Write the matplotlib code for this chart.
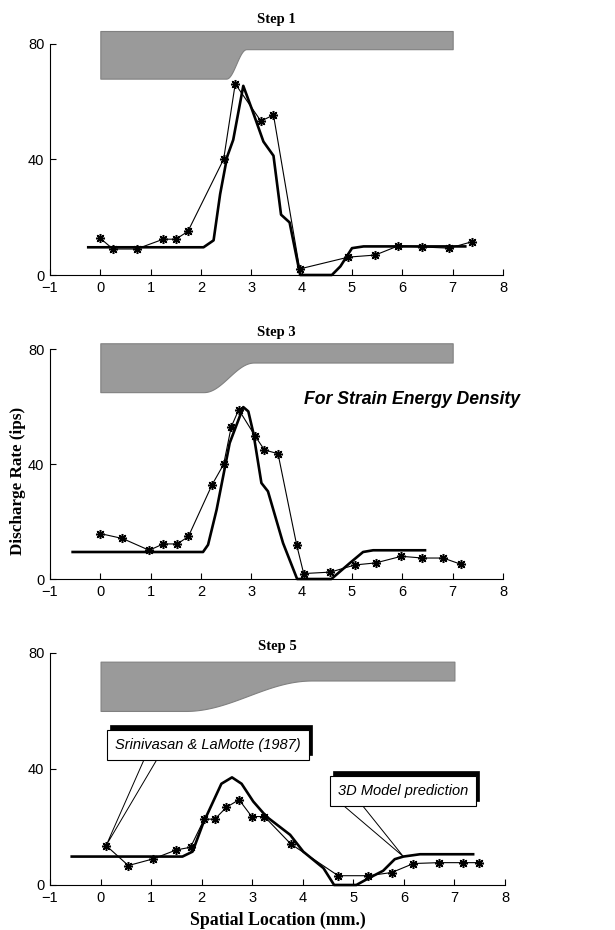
import numpy as np
import matplotlib.pyplot as plt
from matplotlib.transforms import offset_copy

SERIF = ['Liberation Serif', 'DejaVu Serif']
SANS = ['Liberation Sans', 'DejaVu Sans']
plt.rcParams['font.family'] = SANS

# ---- data ----
# Step 1
exp1_x = [0.0, 0.25, 0.72, 1.25, 1.50, 1.74, 2.45, 2.68, 3.19, 3.44, 3.96, 4.93, 5.46, 5.92, 6.40, 6.93, 7.38]
exp1_y = [12.7, 9.0, 9.0, 12.4, 12.4, 15.1, 40.1, 66.2, 53.3, 55.4, 2.1, 6.2, 6.9, 10.1, 9.7, 9.3, 11.5]
mod1_x = [-0.24, 2.05, 2.25, 2.38, 2.52, 2.64, 2.84, 3.02, 3.24, 3.44, 3.59, 3.76, 3.97, 4.60, 4.77, 5.00, 5.23, 7.25]
mod1_y = [9.6, 9.6, 12.0, 28.0, 41.0, 46.8, 65.5, 57.0, 46.2, 41.3, 20.9, 18.2, 0.0, 0.0, 3.0, 9.3, 9.9, 9.9]

# Step 3
exp3_x = [0.0, 0.44, 0.97, 1.25, 1.53, 1.75, 2.22, 2.45, 2.60, 2.75, 3.08, 3.26, 3.53, 3.90, 4.04, 4.57, 5.06, 5.47, 5.98, 6.40, 6.81, 7.17]
exp3_y = [15.8, 14.1, 10.0, 12.2, 12.2, 14.8, 32.8, 39.9, 52.9, 58.9, 49.6, 44.9, 43.6, 11.9, 1.9, 2.4, 4.9, 5.6, 7.9, 7.3, 7.3, 5.1]
mod3_x = [-0.55, 2.04, 2.14, 2.31, 2.57, 2.84, 2.94, 3.04, 3.20, 3.33, 3.63, 3.91, 4.59, 4.96, 5.22, 5.42, 6.45]
mod3_y = [9.4, 9.4, 11.9, 24.1, 47.3, 59.8, 58.3, 50.8, 33.4, 30.5, 12.5, 0.0, 0.0, 5.6, 9.4, 10.0, 10.0]

# Step 5
exp5_x = [0.11, 0.55, 1.04, 1.50, 1.78, 2.05, 2.26, 2.49, 2.74, 2.99, 3.24, 3.76, 4.70, 5.30, 5.76, 6.19, 6.69, 7.16, 7.48]
exp5_y = [13.6, 6.7, 9.0, 12.1, 13.0, 22.7, 22.7, 26.8, 29.4, 23.6, 23.6, 14.2, 3.2, 3.2, 4.3, 7.4, 7.7, 7.7, 7.7]
mod5_x = [-0.57, 1.62, 1.82, 2.03, 2.39, 2.60, 2.79, 3.02, 3.28, 3.75, 4.01, 4.41, 4.62, 5.06, 5.30, 5.59, 5.82, 5.99, 6.32, 7.37]
mod5_y = [9.8, 9.8, 11.5, 21.3, 34.9, 37.1, 34.9, 28.8, 23.6, 17.3, 11.5, 5.8, 0.0, 0.0, 2.3, 4.9, 8.9, 9.8, 10.6, 10.6]

steps = ['Step 1', 'Step 3', 'Step 5']
exp_x = [exp1_x, exp3_x, exp5_x]
exp_y = [exp1_y, exp3_y, exp5_y]
mod_x = [mod1_x, mod3_x, mod5_x]
mod_y = [mod1_y, mod3_y, mod5_y]

# indenter profile: top, low bottom, high bottom, ramp start, ramp end
prof_top = [84.5, 82.0, 77.0]
prof_low = [68.0, 65.0, 60.0]
prof_high = [78.2, 75.3, 70.5]
ramp_a = [2.50, 2.05, 1.67]
ramp_b = [2.90, 3.05, 4.18]
prof_x0, prof_x1 = 0.0, 7.0

xticks = [-1, 0, 1, 2, 3, 4, 5, 6, 7, 8]
yticks = [0, 40, 80]

fig = plt.figure(figsize=(6.15, 9.3), dpi=100)
boxes = [[0.0813, 0.7043, 0.7366, 0.2484],
         [0.0813, 0.3774, 0.7366, 0.2473],
         [0.0813, 0.0484, 0.7398, 0.2495]]
title_y = [1.108, 1.074, 1.026]

axes = []
for i in range(3):
    ax = fig.add_axes(boxes[i])
    axes.append(ax)
    # gray indenter shape
    xs = np.linspace(prof_x0, prof_x1, 400)
    t = np.clip((xs - ramp_a[i]) / (ramp_b[i] - ramp_a[i]), 0, 1)
    bottom = prof_low[i] + (prof_high[i] - prof_low[i]) * (1 - np.cos(np.pi * t)) / 2
    ax.fill_between(xs, bottom, prof_top[i], facecolor='#9a9a9a', edgecolor='#808080',
                    linewidth=0.8, clip_on=False, zorder=1)
    ax.plot(mod_x[i], mod_y[i], color='black', lw=1.9, zorder=3, clip_on=False)
    ax.plot(exp_x[i], exp_y[i], color='black', lw=0.8, marker=(8, 2, 0), ms=6.5,
            mew=1.1, zorder=4, clip_on=False)
    ax.set_xlim(-1, 8)
    ax.set_ylim(0, 80)
    ax.set_xticks(xticks)
    ax.set_yticks(yticks)
    ax.set_xticklabels([str(v).replace('-', '\u2212') for v in xticks])
    ax.spines['top'].set_visible(False)
    ax.spines['right'].set_visible(False)
    ax.tick_params(direction='in', length=4, width=0.8, labelsize=10.5, pad=4)
    ax.patch.set_alpha(0)
    ax.text(0.5, title_y[i], steps[i], transform=ax.transAxes, ha='center',
            va='center', family=SERIF, fontweight='bold', fontsize=10.5)

axes[1].text(8.34, 62.3, 'For Strain Energy Density', ha='right', va='center',
             fontsize=12.7, fontweight='bold', fontstyle='italic', clip_on=False)

fig.text(18 / 615, 1 - 481 / 930, 'Discharge Rate (ips)', rotation=90, ha='center',
         va='center', family=SERIF, fontweight='bold', fontsize=12.3)
fig.text(278 / 615, 1 - 920 / 930, 'Spatial Location (mm.)', ha='center', va='center',
         family=SERIF, fontweight='bold', fontsize=12.8)

# callouts on the last panel
ax = axes[2]
def callout(ax, s, cx, cy, bx1, bx2, by, px, py):
    sh = offset_copy(ax.transData, fig=fig, x=3, y=5, units='dots')
    ax.text(cx, cy, s, transform=sh, ha='center', va='center', fontsize=10.5,
            fontstyle='italic', color='none', zorder=5,
            bbox=dict(boxstyle='square,pad=0.55', fc='black', ec='black', lw=0.5))
    ax.plot([bx1, px, bx2], [by, py, by], color='black', lw=0.7, zorder=5, clip_on=False)
    ax.text(cx, cy, s, ha='center', va='center', fontsize=10.5, fontstyle='italic',
            zorder=6, bbox=dict(boxstyle='square,pad=0.55', fc='white', ec='black', lw=0.8))

callout(ax, 'Srinivasan & LaMotte (1987)', 2.12, 48.2, 0.88, 1.14, 44.0,
        exp5_x[0], exp5_y[0])
callout(ax, '3D Model prediction', 5.98, 32.3, 4.73, 5.13, 28.5,
        mod5_x[17], mod5_y[17])

plt.savefig('out.png', dpi=100)
